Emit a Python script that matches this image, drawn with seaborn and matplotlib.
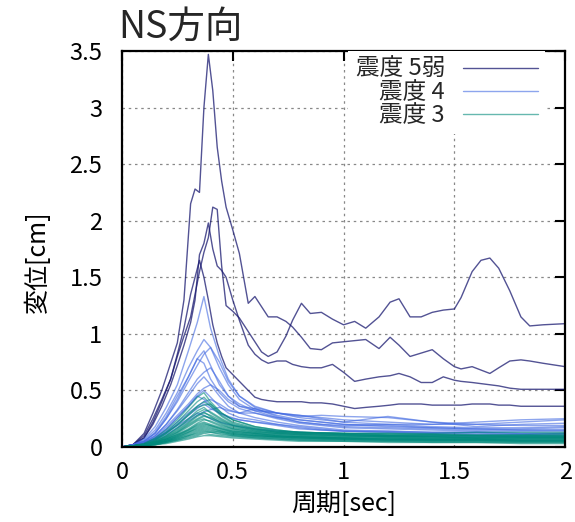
#!/usr/bin/env python3
# Displacement response spectra, NS direction, grouped by seismic intensity

import matplotlib
matplotlib.use("Agg")
import matplotlib.pyplot as plt
from matplotlib.lines import Line2D
from matplotlib.ticker import FuncFormatter, MultipleLocator
import pandas as pd
import seaborn as sns

# --- data ------------------------------------------------------------------
# 震度 5弱: 4 records on a fine period grid
period_5 = [0, 0.05, 0.1, 0.14, 0.18, 0.22, 0.25, 0.28, 0.31, 0.33,
            0.35, 0.37, 0.39, 0.41, 0.43, 0.45, 0.47, 0.5, 0.53, 0.57,
            0.6, 0.63, 0.66, 0.7, 0.74, 0.77, 0.81, 0.85, 0.9, 0.95,
            1.0, 1.05, 1.1, 1.16, 1.21, 1.25, 1.3, 1.35, 1.4, 1.45,
            1.5, 1.53, 1.58, 1.62, 1.66, 1.7, 1.75, 1.8, 1.84, 1.9, 2.0]
shindo5_curves = [
    [0, 0.02, 0.12, 0.3, 0.5, 0.74, 0.92, 1.3, 2.15, 2.28,
     2.25, 3.0, 3.47, 3.15, 2.65, 2.35, 2.12, 1.92, 1.71, 1.27,
     1.33, 1.24, 1.15, 1.15, 1.11, 1.06, 0.97, 0.87, 0.86, 0.92,
     0.93, 0.94, 0.95, 0.87, 0.97, 0.9, 0.80, 0.83, 0.86, 0.78,
     0.71, 0.69, 0.71, 0.68, 0.65, 0.7, 0.76, 0.77, 0.76, 0.74, 0.71],
    [0, 0.02, 0.1, 0.25, 0.42, 0.6, 0.8, 0.98, 1.15, 1.35,
     1.55, 1.72, 1.85, 2.12, 2.1, 1.6, 1.25, 1.2, 1.14, 1.02,
     0.93, 0.84, 0.8, 0.84, 0.98, 1.12, 1.27, 1.18, 1.19, 1.13,
     1.08, 1.11, 1.05, 1.15, 1.28, 1.31, 1.15, 1.15, 1.19, 1.21,
     1.22, 1.32, 1.55, 1.65, 1.67, 1.58, 1.38, 1.15, 1.07, 1.08, 1.09],
    [0, 0.02, 0.08, 0.2, 0.36, 0.55, 0.72, 0.9, 1.1, 1.3,
     1.7, 1.8, 1.98, 1.75, 1.6, 1.56, 1.5, 1.3, 1.12, 0.9,
     0.82, 0.77, 0.74, 0.76, 0.76, 0.73, 0.71, 0.70, 0.70, 0.73,
     0.66, 0.58, 0.6, 0.62, 0.63, 0.65, 0.62, 0.57, 0.57, 0.62,
     0.59, 0.58, 0.57, 0.56, 0.55, 0.54, 0.52, 0.51, 0.51, 0.51, 0.51],
    [0, 0.02, 0.08, 0.22, 0.4, 0.6, 0.82, 1.05, 1.35, 1.5,
     1.65, 1.5, 1.3, 1.08, 0.92, 0.8, 0.7, 0.64, 0.58, 0.5,
     0.44, 0.42, 0.41, 0.40, 0.40, 0.40, 0.40, 0.39, 0.39, 0.38,
     0.36, 0.34, 0.35, 0.36, 0.37, 0.38, 0.38, 0.38, 0.37, 0.37,
     0.37, 0.37, 0.38, 0.38, 0.38, 0.37, 0.37, 0.36, 0.36, 0.36, 0.36],
]

# 震度 4
period_4 = [0, 0.05, 0.1, 0.15, 0.2, 0.25, 0.3, 0.34, 0.37, 0.4, 0.44, 0.48,
            0.53, 0.6, 0.7, 0.8, 0.9, 1.0, 1.2, 1.4, 1.6, 1.8, 2.0]
shindo4_curves = [
    [0, .02, .07, .18, .35, .55, .85, 1.1, 1.33, 1.05, .8, .6, .45, .35, .3, .28, .26, .24, .22, .2, .2, .19, .19],
    [0, .02, .06, .15, .3, .48, .7, .85, .95, .88, .7, .55, .42, .33, .3, .27, .28, .27, .26, .22, .2, .22, .24],
    [0, .02, .05, .12, .25, .4, .58, .72, .82, .88, .75, .58, .45, .36, .3, .26, .24, .22, .27, .22, .18, .2, .21],
    [0, .02, .05, .13, .27, .45, .62, .78, .85, .72, .55, .45, .38, .32, .26, .22, .2, .18, .17, .16, .15, .15, .15],
    [0, .02, .05, .12, .25, .42, .62, .78, .74, .6, .48, .4, .34, .3, .25, .21, .19, .17, .16, .15, .14, .14, .14],
    [0, .02, .04, .1, .2, .33, .48, .6, .66, .7, .58, .45, .36, .34, .27, .22, .2, .19, .2, .18, .17, .17, .18],
    [0, .01, .04, .1, .2, .32, .45, .56, .62, .55, .45, .36, .3, .26, .22, .19, .17, .15, .14, .13, .13, .12, .12],
    [0, .01, .04, .09, .18, .28, .38, .47, .52, .55, .5, .42, .36, .32, .3, .28, .25, .22, .2, .2, .22, .24, .25],
    [0, .01, .03, .08, .16, .26, .36, .45, .5, .44, .36, .3, .26, .24, .2, .17, .15, .14, .13, .12, .12, .11, .11],
    [0, .01, .03, .08, .16, .26, .36, .45, .42, .36, .3, .26, .24, .22, .19, .16, .15, .14, .14, .13, .13, .12, .12],
    [0, .01, .03, .07, .14, .22, .3, .36, .4, .42, .38, .33, .3, .3, .26, .24, .22, .2, .18, .17, .16, .16, .17],
    [0, .01, .03, .07, .13, .2, .28, .34, .38, .34, .3, .27, .24, .22, .2, .18, .16, .14, .13, .12, .11, .11, .1],
    [0, .01, .02, .06, .11, .17, .23, .28, .31, .33, .35, .32, .3, .34, .28, .24, .22, .2, .19, .17, .16, .15, .15],
    [0, .01, .03, .07, .13, .19, .25, .3, .28, .25, .22, .2, .18, .16, .14, .13, .12, .11, .1, .1, .09, .09, .09],
]

# 震度 3
period_3 = [0, 0.05, 0.1, 0.15, 0.2, 0.25, 0.3, 0.34, 0.37, 0.4, 0.45,
            0.5, 0.6, 0.7, 0.8, 1.0, 1.2, 1.4, 1.6, 1.8, 2.0]
shindo3_curves = [
    [0, .01, .03, .08, .15, .24, .35, .44, .48, .40, .30, .24, .18, .15, .13, .12, .12, .11, .11, .11, .12],
    [0, .01, .03, .07, .13, .22, .32, .40, .44, .38, .28, .22, .17, .14, .13, .12, .11, .11, .10, .10, .10],
    [0, .01, .02, .06, .12, .20, .29, .36, .40, .36, .27, .21, .16, .13, .12, .11, .10, .10, .10, .09, .09],
    [0, .01, .02, .06, .12, .19, .28, .35, .37, .38, .30, .24, .18, .15, .13, .12, .12, .12, .13, .13, .13],
    [0, .01, .02, .05, .10, .17, .25, .32, .35, .30, .24, .19, .15, .13, .12, .11, .10, .09, .09, .09, .09],
    [0, .01, .02, .05, .10, .16, .24, .30, .33, .31, .25, .20, .16, .14, .13, .12, .11, .11, .10, .10, .11],
    [0, .01, .02, .05, .09, .15, .22, .28, .31, .27, .21, .17, .14, .12, .11, .10, .09, .09, .08, .08, .08],
    [0, .01, .02, .04, .09, .14, .21, .27, .30, .28, .23, .19, .15, .13, .12, .11, .10, .10, .10, .10, .10],
    [0, .01, .02, .04, .08, .13, .20, .25, .28, .25, .20, .16, .13, .11, .10, .09, .09, .08, .08, .08, .08],
    [0, .01, .02, .04, .08, .13, .19, .24, .27, .26, .22, .18, .14, .12, .11, .10, .10, .09, .09, .09, .09],
    [0, .01, .02, .04, .07, .12, .18, .23, .25, .22, .18, .15, .12, .10, .09, .08, .08, .07, .07, .07, .07],
    [0, .01, .02, .04, .07, .11, .16, .21, .24, .23, .19, .16, .13, .12, .11, .10, .09, .09, .08, .08, .08],
    [0, .01, .02, .04, .07, .11, .15, .20, .22, .20, .17, .14, .12, .10, .09, .08, .07, .07, .07, .06, .06],
    [0, .01, .02, .03, .06, .10, .15, .19, .21, .19, .16, .14, .12, .11, .10, .09, .09, .08, .08, .08, .08],
    [0, .01, .02, .03, .06, .10, .14, .18, .20, .19, .16, .13, .11, .09, .08, .07, .07, .06, .06, .06, .06],
    [0, .01, .02, .03, .06, .09, .13, .17, .19, .18, .15, .13, .11, .10, .09, .08, .08, .07, .07, .07, .07],
    [0, .01, .02, .03, .05, .09, .13, .16, .18, .17, .14, .12, .10, .09, .08, .07, .06, .06, .06, .05, .05],
    [0, .01, .01, .03, .05, .08, .12, .15, .17, .16, .14, .12, .10, .09, .09, .08, .07, .07, .07, .06, .06],
    [0, .01, .01, .03, .05, .08, .11, .14, .16, .15, .13, .11, .09, .08, .07, .06, .06, .05, .05, .05, .05],
    [0, .01, .01, .03, .05, .07, .10, .13, .15, .14, .13, .11, .10, .09, .08, .07, .07, .06, .06, .06, .06],
    [0, .01, .01, .02, .04, .07, .10, .12, .14, .13, .11, .10, .08, .07, .06, .06, .05, .05, .05, .04, .04],
    [0, .01, .01, .02, .04, .06, .09, .11, .13, .13, .12, .10, .09, .08, .07, .07, .06, .06, .06, .05, .05],
    [0, .01, .01, .02, .04, .06, .08, .10, .12, .11, .10, .09, .08, .07, .06, .05, .05, .04, .04, .04, .04],
    [0, .01, .01, .02, .03, .05, .07, .09, .10, .10, .09, .08, .07, .06, .05, .05, .04, .04, .04, .03, .03],
]

group_labels = ["震度 5弱", "震度 4", "震度 3"]
group_colors = ["#191970", "#4169e1", "#00897b"]
group_alpha = [0.75, 0.6, 0.6]

# --- long-form table -------------------------------------------------------
rows = []
for label, grid, curves in zip(group_labels,
                               [period_5, period_4, period_3],
                               [shindo5_curves, shindo4_curves, shindo3_curves]):
    for i, values in enumerate(curves):
        for p, v in zip(grid, values, strict=True):
            rows.append({"group": label, "curve": f"{label}-{i}",
                         "period": p, "disp": v})
df = pd.DataFrame(rows)

# --- plot ------------------------------------------------------------------
sns.set_style("white")
plt.rcParams["font.family"] = ["Noto Sans CJK JP", "DejaVu Sans"]

fig = plt.figure(figsize=(5.75, 5.22), dpi=100)
ax = fig.add_axes([0.212, 0.1437, 0.771, 0.7586])

for label, color, alpha in zip(group_labels, group_colors, group_alpha):
    sns.lineplot(
        data=df[df["group"] == label],
        x="period",
        y="disp",
        units="curve",
        estimator=None,
        sort=False,
        color=color,
        alpha=alpha,
        lw=1.0,
        legend=False,
        ax=ax,
    )

ax.set_xlim(0, 2)
ax.set_ylim(0, 3.5)
ax.xaxis.set_major_locator(MultipleLocator(0.5))
ax.yaxis.set_major_locator(MultipleLocator(0.5))
fmt = FuncFormatter(lambda v, _: f"{v:g}")
ax.xaxis.set_major_formatter(fmt)
ax.yaxis.set_major_formatter(fmt)
ax.tick_params(direction="in", length=7, width=1.5, top=True, right=True,
               labelsize=17, colors="black")
ax.tick_params(axis="y", pad=14)
ax.tick_params(axis="x", pad=10)
ax.set_axisbelow(True)
ax.grid(True, color="#888888", linestyle=(0, (2, 3)), linewidth=0.9)
for s in ax.spines.values():
    s.set_visible(True)
    s.set_color("black")
    s.set_linewidth(1.6)

ax.set_xlabel("周期[sec]", fontsize=18, color="black")
ax.xaxis.set_label_coords(0.5, -0.11)
ax.set_ylabel("変位[cm]", fontsize=18, color="black", va="center")
ax.yaxis.set_label_coords(-0.19, 0.467)

fig.text(118 / 575, 1 - 38 / 522, "NS方向", fontsize=27, ha="left",
         va="baseline")

handles = [Line2D([], [], color=c, alpha=a, lw=1.0)
           for c, a in zip(group_colors, group_alpha)]
leg = ax.legend(
    handles,
    group_labels,
    loc="upper right",
    bbox_to_anchor=(0.955, 1.0),
    borderaxespad=0,
    markerfirst=False,
    frameon=True,
    fancybox=False,
    framealpha=1,
    edgecolor="none",
    facecolor="white",
    fontsize=17,
    handlelength=3.2,
    handletextpad=0.75,
    labelspacing=0.0,
    borderpad=0.3,
)
leg.set_zorder(5)

fig.savefig("out.png", dpi=100)
